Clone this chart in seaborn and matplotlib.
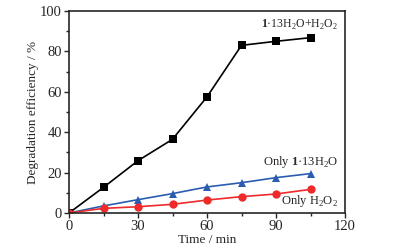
import pandas as pd
import seaborn as sns
import matplotlib.pyplot as plt
from matplotlib.ticker import MultipleLocator

# -----------------------------
# Data
# -----------------------------
time_min = [0, 15, 30, 45, 60, 75, 90, 105]
cat_h2o2 = [0, 12.7, 25.9, 36.5, 57.5, 83.0, 85.0, 86.8]
only_cat = [0, 3.5, 6.6, 9.6, 12.9, 15.0, 17.5, 19.5]
only_h2o2 = [0, 2.3, 3.1, 4.3, 6.4, 8.1, 9.4, 11.7]

series_names = ["cat+H2O2", "cat", "H2O2"]
series_vals = [cat_h2o2, only_cat, only_h2o2]

df = pd.concat(
    [pd.DataFrame({"time": time_min, "eff": v, "series": n})
     for n, v in zip(series_names, series_vals)],
    ignore_index=True
)

sns.set_style("ticks")
plt.rcParams["font.family"] = ["Liberation Serif", "DejaVu Serif"]
plt.rcParams["mathtext.fontset"] = "custom"
plt.rcParams["mathtext.rm"] = "Liberation Serif"
plt.rcParams["mathtext.bf"] = "Liberation Serif:bold"

palette = {"cat+H2O2": "black", "cat": "#2a5db0", "H2O2": "#ee2a2a"}
markers = {"cat+H2O2": "s", "cat": "^", "H2O2": "o"}

fig = plt.figure(figsize=(3.94, 2.48), dpi=100)
ax = fig.add_axes([69 / 394, 1 - 213 / 248, 276 / 394, 202 / 248])

sns.lineplot(
    data=df, x="time", y="eff", hue="series", style="series",
    palette=palette, markers=markers, dashes=False,
    markersize=6, linewidth=1.2, markeredgewidth=0,
    legend=False, ax=ax
)

ax.set_xlim(0, 120)
ax.set_ylim(0, 100)
ax.xaxis.set_major_locator(MultipleLocator(30))
ax.yaxis.set_major_locator(MultipleLocator(20))
ax.xaxis.set_minor_locator(MultipleLocator(15))
ax.yaxis.set_minor_locator(MultipleLocator(10))
ax.tick_params(which="major", length=3.5, width=1, labelsize=10.5, pad=1.5)
ax.tick_params(which="minor", length=2, width=1)
for s in ax.spines.values():
    s.set_linewidth(1.2)

ax.set_xlabel("Time / min", fontsize=9.5, labelpad=1)
ax.set_ylabel("Degradation efficiency / %", fontsize=9.5, labelpad=1)

ax.text(117, 93, r"$\mathbf{1}$·13H$_2$O+H$_2$O$_2$", ha="right", va="center", fontsize=8.5)
ax.text(117, 25.4, r"Only $\mathbf{1}$·13H$_2$O", ha="right", va="center", fontsize=9)
ax.text(117, 6, r"Only H$_2$O$_2$", ha="right", va="center", fontsize=9)

plt.savefig("out.png", dpi=100)
